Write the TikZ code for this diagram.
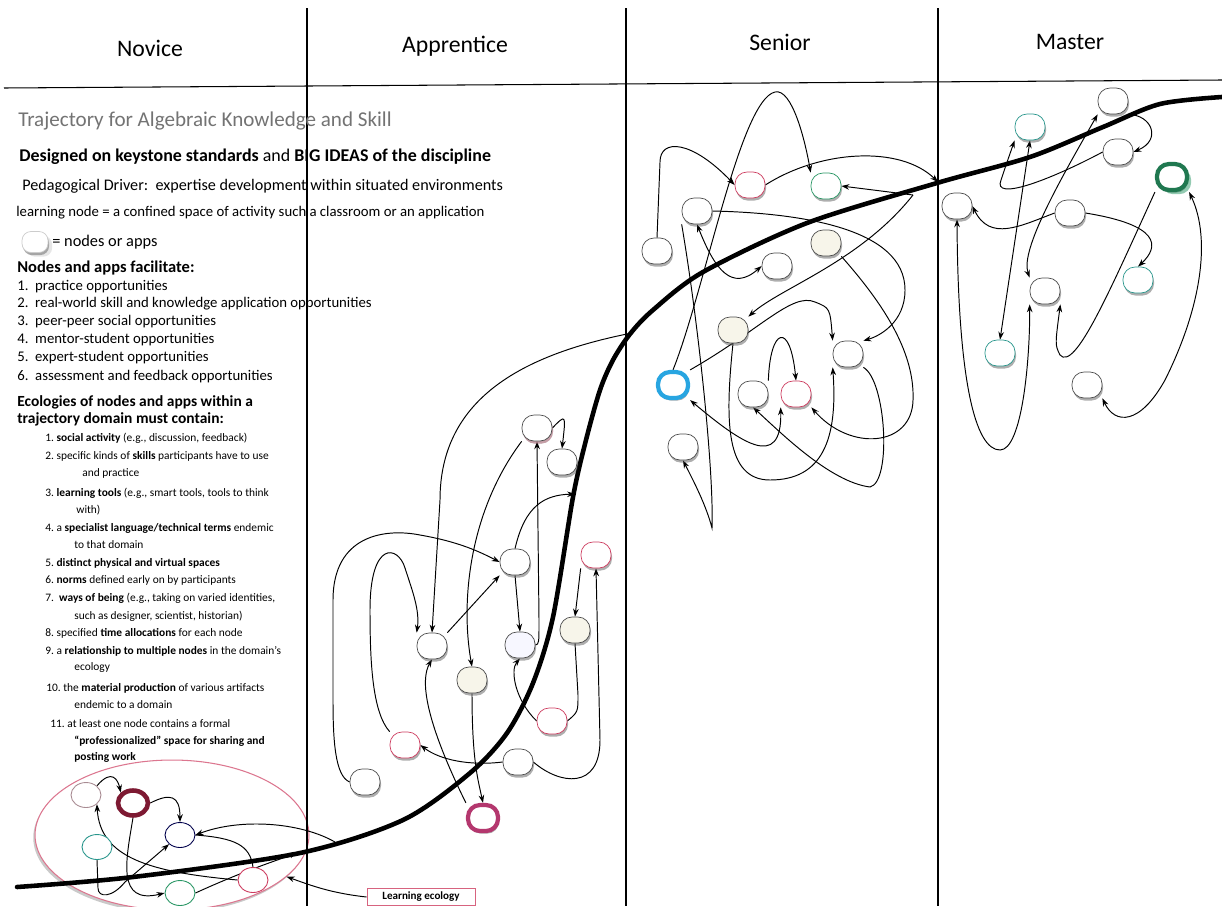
\documentclass[tikz,border=0pt]{standalone}
\usepackage{fontspec}
\setmainfont{Carlito}
\usepackage{xcolor}
\definecolor{lnred}{RGB}{205,60,95}
\definecolor{lngreen}{RGB}{40,150,100}
\definecolor{lnteal}{RGB}{40,150,140}
\definecolor{lnmaroon}{RGB}{125,25,50}
\definecolor{lnmagenta}{RGB}{180,55,110}
\definecolor{lnblue}{RGB}{40,165,225}
\definecolor{lnbeige}{RGB}{247,245,234}
\usetikzlibrary{positioning,arrows.meta,shadows,shapes.geometric,backgrounds}

\begin{document}
\begin{tikzpicture}[
  x=0.02cm,y=-0.02cm,
  >={Stealth[length=4.5pt,width=3.2pt]},
  lnode/.style={draw=black!70,line width=0.4pt,fill=white,rounded corners=2.4mm,
    minimum width=6mm,minimum height=5.2mm,inner sep=0pt,
    drop shadow={shadow xshift=0.6pt,shadow yshift=-1.5pt,opacity=0.45,fill=black!70}},
  rnode/.style={lnode,draw=lnred},
  gnode/.style={lnode,draw=lngreen},
  tnode/.style={lnode,draw=lnteal},
  bnode/.style={lnode,fill=lnbeige},
  ring/.style={lnode,draw=#1,line width=2.4pt},
  enode/.style={ellipse,draw=#1,line width=0.5pt,fill=white,minimum width=6mm,minimum height=5mm,inner sep=0pt},
  txt/.style={anchor=west,inner sep=0pt},
  head/.style={font=\fontsize{13.5}{15}\selectfont},
  ar/.style={->,line width=0.55pt},
  br/.style={<->,line width=0.55pt},
  ln/.style={line width=0.55pt},
]
\useasboundingbox (0,0) rectangle (1222,906);

% column grid
\draw[line width=0.6pt] (4,88) -- (1222,80);
\draw[line width=0.6pt] (307,8) -- (307,906);
\draw[line width=0.6pt] (626,8) -- (626,906);
\draw[line width=0.6pt] (938,8) -- (938,906);
\node[head] (novice) at (150,48) {Novice};
\node[head] (apprentice) at (455,46) {Apprentice};
\node[head] (senior) at (780,42) {Senior};
\node[head] (master) at (1070,42) {Master};

% left hand text
\node[txt,font=\fontsize{12}{14}\selectfont,text=black!55] (title) at (18,121) {Trajectory for Algebraic Knowledge and Skill};
\node[txt,font=\bfseries\fontsize{10.2}{12}\selectfont] (designed) at (19,157) {Designed on keystone standards \mdseries and \bfseries BIG IDEAS of the discipline};
\node[txt,font=\fontsize{9.2}{11}\selectfont] (driver) at (22,186) {Pedagogical Driver:\ \ expertise development within situated environments};
\node[txt,font=\fontsize{8.4}{10}\selectfont] (lnodedef) at (16,213) {learning node = a confined space of activity such a classroom or an application};
\node[lnode,draw=black!20,minimum width=5.2mm,minimum height=4.2mm,rounded corners=1.8mm,drop shadow={opacity=0.2}] (key) at (35,242) {};
\node[txt,font=\fontsize{9.3}{11}\selectfont] (keytext) at (52,242) {= nodes or apps};
\node[txt,font=\bfseries\fontsize{9.4}{11}\selectfont] (facil) at (17,268) {Nodes and apps facilitate:};
\foreach \y/\t in {287/{1.\ \ practice opportunities},
                   304/{2.\ \ real-world skill and knowledge application opportunities},
                   322/{3.\ \ peer-peer social opportunities},
                   340/{4.\ \ mentor-student opportunities},
                   358/{5.\ \ expert-student opportunities},
                   377/{6.\ \ assessment and feedback opportunities}}
  \node[txt,font=\fontsize{8.4}{10}\selectfont] (fac-\y) at (17,\y) {\t};
\node[txt,font=\bfseries\fontsize{8.8}{10}\selectfont] (ecol1) at (17,402) {Ecologies of nodes and apps within a};
\node[txt,font=\bfseries\fontsize{8.8}{10}\selectfont] (ecol2) at (17,419) {trajectory domain must contain:};
\foreach \x/\y/\t in {45/438/{1.\ \textbf{social activity} (e.g., discussion, feedback)},
                      45/456/{2.\ specific kinds of \textbf{skills} participants have to use},
                      82/473/{and practice},
                      45/493/{3.\ \textbf{learning tools} (e.g., smart tools, tools to think},
                      76/510/{with)},
                      45/528/{4.\ a \textbf{specialist language/technical terms} endemic},
                      74/545/{to that domain},
                      45/563/{5.\ \textbf{distinct physical and virtual spaces}},
                      45/580/{6.\ \textbf{norms} defined early on by participants},
                      45/598/{7.\ \ \textbf{ways of being} (e.g., taking on varied identities,},
                      74/616/{such as designer, scientist, historian)},
                      45/633/{8.\ specified \textbf{time allocations} for each node},
                      45/651/{9.\ a \textbf{relationship to multiple nodes} in the domain's},
                      74/668/{ecology},
                      46/688/{10.\ the \textbf{material production} of various artifacts},
                      74/705/{endemic to a domain},
                      50/724/{11.\ at least one node contains a formal},
                      74/741/{\textbf{``professionalized'' space for sharing and}},
                      74/757/{\textbf{posting work}}}
  \node[txt,font=\fontsize{6.5}{8}\selectfont] (must-\y) at (\x,\y) {\t};

% learning ecology
\begin{scope}[on background layer]
\node[ellipse,draw=lnred!70,line width=0.6pt,fill=white,minimum width=5.48cm,minimum height=3cm,inner sep=0pt,
      drop shadow={shadow xshift=-1pt,shadow yshift=-1.5pt,opacity=0.35,fill=black!60}] (eco) at (172,835) {};
\end{scope}
\node[enode=lnred!40!black!50] (eco1) at (86,795) {};
\node[enode=lnmaroon,line width=2.6pt] (eco2) at (133,803) {};
\node[enode=black!70!blue] (eco3) at (180,835) {};
\node[enode=lnteal] (eco4) at (97,847) {};
\node[enode=lngreen] (eco5) at (180,893) {};
\node[enode=lnred] (eco6) at (253,880) {};
\node[draw=lnred!80,fill=white,line width=0.5pt,minimum width=2.16cm,minimum height=0.34cm,inner sep=1pt,
      font=\bfseries\fontsize{6.3}{7}\selectfont] (lbox) at (421,897) {Learning ecology};
\coordinate (ecoout) at (297,852);
\coordinate (ecoin) at (335,842);

% apprentice nodes
\node[lnode,drop shadow={shadow xshift=0.6pt,shadow yshift=-1.5pt,opacity=0.45,fill=lnred!60}] (ap1) at (537,428) {};
\node[lnode] (ap2) at (562,462) {};
\node[lnode] (ap3) at (515,562) {};
\node[rnode] (ap4) at (596,555) {};
\node[lnode] (ap5) at (432,646) {};
\node[lnode,fill=blue!3] (ap6) at (520,645) {};
\node[bnode] (ap7) at (575,630) {};
\node[bnode] (ap8) at (472,680) {};
\node[rnode] (ap9) at (552,721) {};
\node[rnode] (ap10) at (405,745) {};
\node[lnode] (ap11) at (518,762) {};
\node[lnode] (ap12) at (365,782) {};
\node[ring=lnmagenta] (ap13) at (483,818) {};
\coordinate (apup) at (632,333);
\coordinate (apcurve) at (575,494);

% senior nodes
\node[rnode] (sn1) at (750,185) {};
\node[gnode] (sn2) at (826,186) {};
\node[lnode] (sn3) at (697,211) {};
\node[lnode] (sn4) at (657,251) {};
\node[bnode] (sn5) at (826,243) {};
\node[lnode] (sn6) at (777,266) {};
\node[bnode] (sn7) at (733,330) {};
\node[lnode] (sn8) at (848,354) {};
\node[ring=lnblue] (sn9) at (673,385) {};
\node[lnode] (sn10) at (753,394) {};
\node[rnode] (sn11) at (796,394) {};
\node[lnode] (sn12) at (683,447) {};
\coordinate (snarc) at (938,182);
\coordinate (sncurve) at (913,195);

% master nodes
\node[lnode] (ms1) at (1113,101) {};
\node[tnode] (ms2) at (1030,127) {};
\node[lnode] (ms3) at (1118,152) {};
\node[ring=lngreen!80!black,drop shadow={opacity=0.5,fill=lngreen}] (ms4) at (1172,177) {};
\node[lnode] (ms5) at (957,206) {};
\node[lnode] (ms6) at (1070,213) {};
\node[tnode] (ms7) at (1138,280) {};
\node[lnode] (ms8) at (1045,291) {};
\node[tnode] (ms9) at (1000,353) {};
\node[lnode] (ms10) at (1087,385) {};

\begin{scope}[on background layer]
% ecology links
\draw[ar] (eco1.north east) .. controls (112,768) and (118,780) .. (eco2.north west);
\draw[ar] (eco2.east) .. controls (170,793) and (180,795) .. (eco3.north);
\draw[ar] (eco2.south) .. controls (126,860) and (116,905) .. (eco5.west);
\draw[ar] (eco4.south) -- (98,888) .. controls (98,898) and (112,898) .. (125,882) -- (eco3.south west);
\draw[ln] (eco3.east) .. controls (235,838) and (250,845) .. (eco6.north);
\draw[ar] (eco6.west) .. controls (150,872) and (100,858) .. (eco1.south east);
\draw[ar] (eco5.east) .. controls (250,868) and (285,858) .. (ecoout);
\draw[ar] (ecoin) .. controls (300,822) and (240,818) .. (eco3.east);
\draw[ar] (lbox.west) .. controls (330,893) and (310,885) .. (eco.-20);

% apprentice links
\draw[ar] (ap1.east) .. controls (566,414) .. (ap2.north);
\draw[ar] (ap1.south west) .. controls (470,510) and (460,600) .. (ap8.north);
\draw[ar] (ap6.east) .. controls (539,644) .. (539,620) -- (ap1.south);
\draw[ar] (apup) .. controls (520,355) and (440,400) .. (440,500) -- (ap5.north);
\draw[ar] (ap3.north) .. controls (525,505) and (545,495) .. (apcurve);
\draw[ar] (ap3.south) -- (ap6.north);
\draw[ar] (ap5.north east) -- (ap3.south west);
\draw[ar] (ap12.west) .. controls (335,776) and (333,740) .. (333,700) -- (333,600)
  .. controls (333,535) and (385,528) .. (420,535) .. controls (460,542) and (480,552) .. (ap3.west);
\draw[ar] (ap10.north west) .. controls (372,712) and (370,660) .. (370,610)
  .. controls (370,540) and (398,545) .. (405,568) .. controls (412,590) and (420,610) .. (ap5.north west);
\draw[ar] (ap13.north west) .. controls (425,720) and (420,680) .. (ap5.south);
\draw[ar] (ap8.south) .. controls (472,760) and (478,780) .. (ap13.north);
\draw[ar] (ap11.west) .. controls (470,766) and (440,760) .. (ap10.east);
\draw[ar] (ap11.east) .. controls (560,785) and (600,790) .. (600,740) -- (ap4.south);
\draw[ar] (ap4.south west) -- (ap7.north);
\draw[ln] (ap7.south) -- (578,695) .. controls (578,712) .. (ap9.east);
\draw[ar] (ap9.west) .. controls (515,700) and (510,670) .. (ap6.south);

% senior links
\draw[ar] (sn4.north) -- (660,162) .. controls (660,138) and (692,140) .. (sn1.west);
\draw[ar] (sn9.north) .. controls (705,290) and (740,100) .. (775,92) .. controls (792,88) and (805,140) .. (sn2.north west);
\draw[ar] (sn1.east) .. controls (820,150) and (900,145) .. (snarc);
\draw[ar] (sncurve) -- (sn2.east);
\draw[ar] (sn3.east) .. controls (800,213) and (905,228) .. (905,290) .. controls (905,322) and (880,336) .. (sn8.north east);
\draw[ar] (sncurve) .. controls (860,262) and (780,288) .. (sn7.north east);
\draw[br] (sn3.south) .. controls (715,270) and (732,292) .. (sn6.west);
\draw[ar] (sn5.south east) .. controls (880,300) and (915,350) .. (913,400) .. controls (912,447) and (850,452) .. (sn11.south east);
\draw[ar] (sn7.south) .. controls (725,420) and (725,480) .. (770,480) .. controls (822,480) and (838,440) .. (sn8.south west);
\draw[ar] (sn9.north east) .. controls (760,330) and (792,292) .. (815,302) .. controls (830,308) .. (sn8.north west);
\draw[ar] (sn10.north east) .. controls (770,328) and (790,320) .. (sn11.north);
\draw[br] (sn9.south east) .. controls (740,442) and (782,472) .. (sn11.south west);
\draw[ar] (sn8.south east) .. controls (886,380) and (892,482) .. (870,487) .. controls (830,482) and (780,432) .. (sn10.south);
\draw[ar] (sn3.south west) .. controls (698,320) and (714,470) .. (712,528) .. controls (706,505) and (694,482) .. (sn12.south);

% master links
\draw[br] (ms8.north west) .. controls (1020,250) and (1060,180) .. (ms1.south west);
\draw[ar] (ms1.south east) .. controls (1152,115) and (1162,140) .. (ms3.east);
\draw[ar] (ms3.west) .. controls (1050,180) and (992,202) .. (1001,180) .. controls (1006,165) .. (ms2.south west);
\draw[br] (ms2.south) -- (ms9.north);
\draw[ar] (ms6.west) .. controls (1020,226) and (990,242) .. (ms5.east);
\draw[ar] (ms6.east) .. controls (1160,225) and (1160,246) .. (ms7.north);
\draw[ar] (ms4.south west) .. controls (1110,290) and (1075,372) .. (1060,355) .. controls (1055,345) .. (ms8.south east);
\draw[br] (ms10.south east) .. controls (1115,425) and (1140,425) .. (1165,380) .. controls (1200,310) and (1212,240) .. (ms4.south east);
\draw[br] (ms5.south) .. controls (958,380) and (975,450) .. (1000,450) .. controls (1022,450) and (1030,360) .. (ms8.south west);

% trajectory curve
\draw[line width=2.6pt,line cap=round] plot[smooth,tension=0.5] coordinates
  {(17,887) (133,877) (300,853) (403,820) (470,773) (507,733) (533,683) (553,617)
   (573,497) (586,440) (600,390) (613,360) (630,334) (653,310) (703,272) (807,223)
   (937,183) (1030,157) (1103,127) (1160,104) (1222,97)};
\end{scope}
\end{tikzpicture}
\end{document}
